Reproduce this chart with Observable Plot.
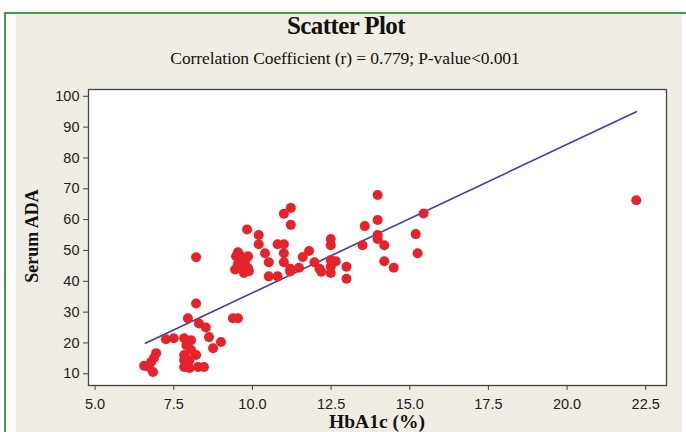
<!DOCTYPE html>
<html>
<head>
<meta charset="utf-8">
<script src="https://cdn.jsdelivr.net/npm/d3@7"></script>
<script src="https://cdn.jsdelivr.net/npm/@observablehq/plot@0.6"></script>
<style>
  html, body { margin: 0; padding: 0; width: 686px; height: 432px; overflow: hidden; background: #ffffff; }
  #green { position: absolute; left: 4px; top: 12px; width: 682px; height: 420px; border-top: 2px solid #3d9a4e; border-left: 2px solid #3d9a4e; background: #ffffff; }
  #beige { position: absolute; left: 16px; top: 14px; width: 666px; height: 418px; background: #f0eee4; }
  .t { position: absolute; font-family: "Liberation Serif", "Times New Roman", serif; color: #111; white-space: nowrap; }
  #title { left: 0; width: 692px; text-align: center; top: 12px; font-size: 25px; font-weight: bold; letter-spacing: -0.6px; }
  #subtitle { left: 0; width: 690px; text-align: center; top: 48px; font-size: 17.5px; letter-spacing: -0.1px; }
  #xlabel { left: 88px; width: 578px; text-align: center; top: 411px; font-size: 19.5px; font-weight: bold; }
  #ylabel { left: 32px; top: 236px; font-size: 18px; font-weight: bold; transform: translate(-50%, -50%) rotate(-90deg); }
  #chart { position: absolute; left: 0; top: 70px; }
</style>
</head>
<body>
<div id="green"></div>
<div id="beige"></div>
<div id="title" class="t">Scatter Plot</div>
<div id="subtitle" class="t">Correlation Coefficient (r) = 0.779; P-value&lt;0.001</div>
<div id="ylabel" class="t">Serum ADA</div>
<div id="xlabel" class="t">HbA1c (%)</div>
<div id="chart"></div>
<script>
// HbA1c (%) values
const hba1c = [
  6.56, 6.71, 6.84, 6.78, 6.87, 6.94,
  7.25, 7.5, 7.83, 8.05, 7.9, 8.05, 7.83, 8.21, 7.83, 8.0, 7.83, 8.0, 8.27, 8.46,
  7.95, 8.21, 8.21, 8.3, 8.52, 8.62, 9.0, 8.75, 9.38, 9.54,
  9.83, 10.2, 10.2,
  9.54, 9.48, 9.63, 9.86, 9.79, 9.57, 9.63, 9.86, 9.89, 9.54, 9.73, 9.45,
  10.4, 10.52, 10.52, 10.8, 10.8, 11.0, 11.0, 11.0, 11.2, 11.2, 11.0, 11.22, 11.22,
  11.48, 11.6, 11.8, 11.97, 12.13, 12.19,
  12.49, 12.49, 12.49, 12.65, 12.49, 12.49, 12.99, 12.99,
  13.5, 13.57, 13.98, 13.98, 13.98, 13.98, 14.19, 14.19, 14.49,
  15.19, 15.25, 15.44,
  22.2
];
// Serum ADA values
const ada = [
  12.6, 12.2, 10.6, 13.8, 15.1, 16.7,
  21.2, 21.5, 21.5, 20.9, 19.3, 17.7, 16.1, 16.1, 14.5, 14.5, 12.2, 11.9, 12.2, 12.2,
  28.0, 32.8, 47.8, 26.3, 25.0, 21.9, 20.3, 18.3, 28.0, 28.0,
  56.8, 55.0, 52.0,
  49.4, 48.1, 48.1, 48.1, 47.1, 46.5, 44.9, 44.3, 43.3, 45.5, 42.7, 43.8,
  49.1, 46.2, 41.6, 41.6, 52.0, 52.0, 49.1, 46.2, 44.1, 43.2, 61.9, 63.8, 58.3,
  44.4, 47.9, 49.8, 46.2, 44.1, 43.1,
  53.7, 51.7, 46.9, 46.5, 44.7, 42.7, 44.7, 40.8,
  51.7, 57.9, 68.0, 59.9, 55.0, 53.7, 51.7, 46.5, 44.4,
  55.3, 49.1, 62.0,
  66.3
];
// Fitted regression line end points
const fitX = [6.6, 22.2];
const fitY = [19.9, 95.0];
const xTicks = [5, 7.5, 10, 12.5, 15, 17.5, 20, 22.5];
const yTicks = [10, 20, 30, 40, 50, 60, 70, 80, 90, 100];

const pts = hba1c.map((x, i) => ({x, y: ada[i]}));
const fit = fitX.map((x, i) => ({x, y: fitY[i]}));

const chart = Plot.plot({
  width: 686,
  height: 362,
  marginLeft: 88,
  marginRight: 20,
  marginTop: 19,
  marginBottom: 47,
  style: {background: "transparent", fontFamily: "'Liberation Sans', Arial, sans-serif", fontSize: "14.5px", color: "#222"},
  x: {domain: [4.79, 23.16], ticks: xTicks, tickFormat: d3.format(".1f")},
  y: {domain: [6.2, 102.2], ticks: yTicks},
  marks: [
    Plot.frame({fill: "white", stroke: "none"}),
    Plot.line(fit, {x: "x", y: "y", stroke: "#3a3fa6", strokeWidth: 1.6}),
    Plot.dot(pts, {x: "x", y: "y", r: 5, fill: "#e5232b", stroke: "none"}),
    Plot.frame({stroke: "#444", strokeWidth: 1.3}),
    Plot.axisX({ticks: xTicks, tickFormat: d3.format(".1f"), tickSize: 5, tickPadding: 8, label: null, fontSize: 14.5, stroke: "#444"}),
    Plot.axisY({ticks: yTicks, tickSize: 5, tickPadding: 4, label: null, fontSize: 14.5, stroke: "#444"})
  ]
});
document.getElementById("chart").appendChild(chart);
</script>
</body>
</html>
